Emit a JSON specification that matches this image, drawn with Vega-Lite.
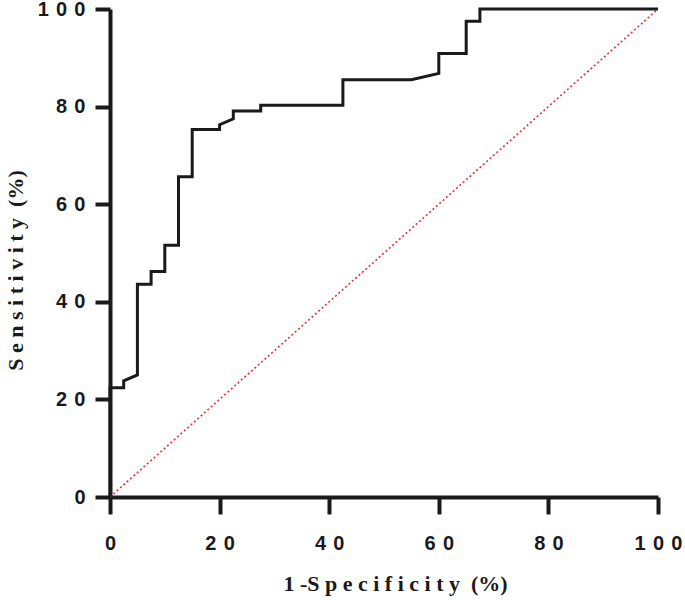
{
  "$schema": "https://vega.github.io/schema/vega-lite/v6.json",
  "width": 548,
  "height": 488,
  "autosize": "none",
  "padding": {"left": 110, "top": 9, "right": 27, "bottom": 103},
  "background": "white",
  "config": {
    "view": {"stroke": null},
    "axis": {
      "grid": false,
      "domainColor": "#1a1a1a",
      "domainWidth": 4,
      "tickColor": "#1a1a1a",
      "tickWidth": 4,
      "tickSize": 16,
      "labelFont": "Liberation Sans",
      "labelFontWeight": "bold",
      "labelFontSize": 20,
      "labelColor": "#1a1a1a",
      "labelFlush": false,
      "labelOverlap": false,
      "titleFont": "Liberation Serif",
      "titleFontWeight": "bold",
      "titleFontSize": 22,
      "titleColor": "#1a1a1a"
    }
  },
  "datasets": {
    "roc": [
      {"i": 0, "fpr": 0, "tpr": 0},
      {"i": 1, "fpr": 0, "tpr": 22.4},
      {"i": 2, "fpr": 2.5, "tpr": 22.4},
      {"i": 3, "fpr": 2.5, "tpr": 23.8},
      {"i": 4, "fpr": 5, "tpr": 25.0},
      {"i": 5, "fpr": 5, "tpr": 43.6},
      {"i": 6, "fpr": 7.5, "tpr": 43.6},
      {"i": 7, "fpr": 7.5, "tpr": 46.2},
      {"i": 8, "fpr": 10, "tpr": 46.2},
      {"i": 9, "fpr": 10, "tpr": 51.6},
      {"i": 10, "fpr": 12.5, "tpr": 51.6},
      {"i": 11, "fpr": 12.5, "tpr": 65.6},
      {"i": 12, "fpr": 15, "tpr": 65.6},
      {"i": 13, "fpr": 15, "tpr": 75.3},
      {"i": 14, "fpr": 20, "tpr": 75.3},
      {"i": 15, "fpr": 20, "tpr": 76.3},
      {"i": 16, "fpr": 22.5, "tpr": 77.5},
      {"i": 17, "fpr": 22.5, "tpr": 79.1},
      {"i": 18, "fpr": 27.5, "tpr": 79.1},
      {"i": 19, "fpr": 27.5, "tpr": 80.3},
      {"i": 20, "fpr": 42.5, "tpr": 80.3},
      {"i": 21, "fpr": 42.5, "tpr": 85.5},
      {"i": 22, "fpr": 55, "tpr": 85.5},
      {"i": 23, "fpr": 60, "tpr": 86.8},
      {"i": 24, "fpr": 60, "tpr": 90.9},
      {"i": 25, "fpr": 65, "tpr": 90.9},
      {"i": 26, "fpr": 65, "tpr": 97.5},
      {"i": 27, "fpr": 67.5, "tpr": 97.5},
      {"i": 28, "fpr": 67.5, "tpr": 100},
      {"i": 29, "fpr": 100, "tpr": 100}
    ],
    "ref": [
      {"i": 0, "fpr": 0, "tpr": 0},
      {"i": 1, "fpr": 100, "tpr": 100}
    ]
  },
  "layer": [
    {
      "data": {"name": "ref"},
      "mark": {"type": "line", "color": "#e0303a", "strokeWidth": 1.6, "strokeDash": [2, 2.5], "clip": true},
      "encoding": {
        "x": {"field": "fpr", "type": "quantitative"},
        "y": {"field": "tpr", "type": "quantitative"},
        "order": {"field": "i", "type": "quantitative"}
      }
    },
    {
      "data": {"name": "roc"},
      "mark": {"type": "line", "color": "#1a1a1a", "strokeWidth": 3, "strokeJoin": "miter"},
      "encoding": {
        "x": {
          "field": "fpr",
          "type": "quantitative",
          "scale": {"domain": [0, 100], "nice": false, "zero": false},
          "axis": {
            "values": [0, 20, 40, 60, 80, 100],
            "labelExpr": "join(split(datum.label, ''), ' \u200a')",
            "labelPadding": 19,
            "tickSize": 17,
            "title": "1 -S p e c i f i c i t y \u00a0(%)",
            "titlePadding": 20,
            "titleX": 285
          }
        },
        "y": {
          "field": "tpr",
          "type": "quantitative",
          "scale": {"domain": [0, 100], "nice": false, "zero": false},
          "axis": {
            "values": [0, 20, 40, 60, 80, 100],
            "labelExpr": "join(split(datum.label, ''), ' \u200a')",
            "labelPadding": 10,
            "tickSize": 15,
            "title": "S e n s i t i v i t y \u00a0(%)",
            "titlePadding": 10,
            "titleY": 261
          }
        },
        "order": {"field": "i", "type": "quantitative"}
      }
    }
  ]
}
